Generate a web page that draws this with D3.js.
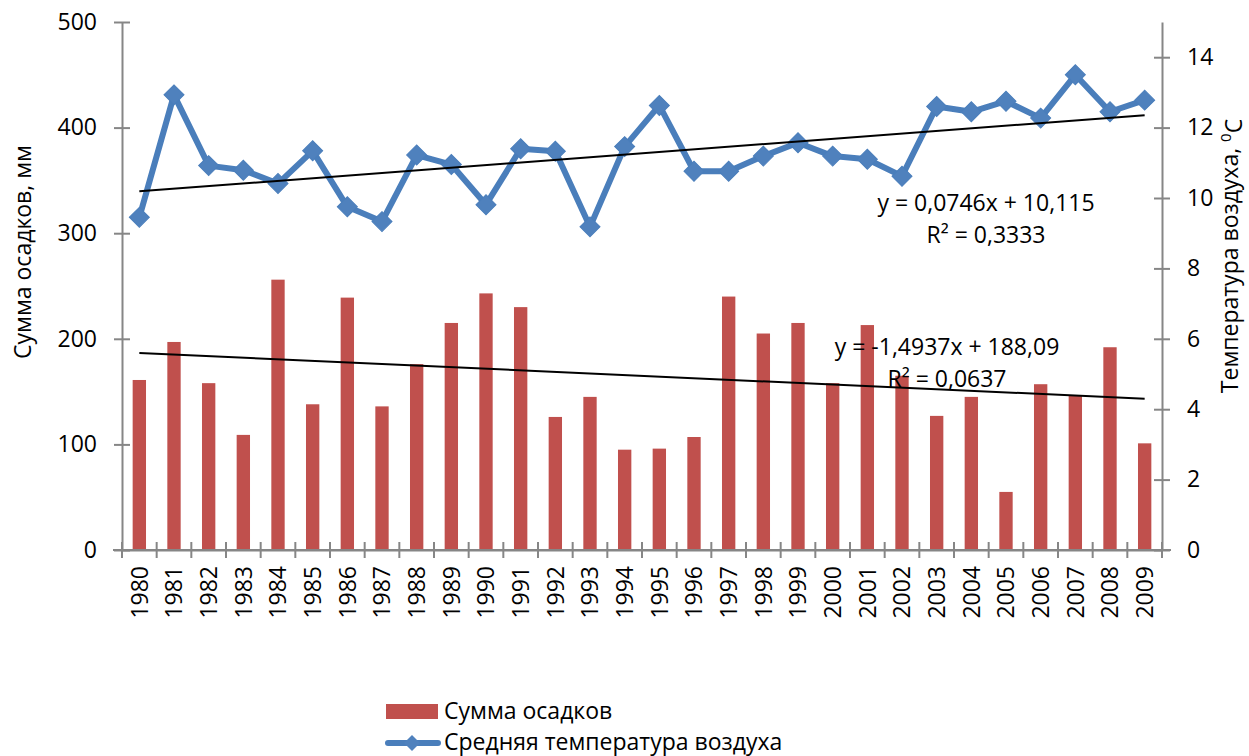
<!DOCTYPE html>
<html>
<head>
<meta charset="utf-8">
<script src="https://cdn.jsdelivr.net/npm/d3@7"></script>
<style>
  html, body { margin: 0; padding: 0; background: #fff; }
  svg { display: block; }
  text { font-family: "Open Sans", "Noto Sans", sans-serif; fill: #000; }
</style>
</head>
<body>
<svg id="chart" width="1249" height="756"></svg>
<script>
const years = ["1980","1981","1982","1983","1984","1985","1986","1987","1988","1989",
               "1990","1991","1992","1993","1994","1995","1996","1997","1998","1999",
               "2000","2001","2002","2003","2004","2005","2006","2007","2008","2009"];
const precipitation = [161,197,158,109,256,138,239,136,176,215,
                       243,230,126,145,95,96,107,240,205,215,
                       158,213,165,127,145,55,157,146,192,101];
const temperature = [9.45,12.93,10.92,10.79,10.41,11.34,9.75,9.33,11.22,10.95,
                     9.81,11.40,11.33,9.18,11.46,12.63,10.76,10.76,11.19,11.57,
                     11.19,11.10,10.62,12.60,12.45,12.75,12.27,13.50,12.45,12.78];
const leftTicks = [0,100,200,300,400,500];
const rightTicks = [0,2,4,6,8,10,12,14];
const tempTrendCoef = [0.0746, 10.115];
const precipTrendCoef = [-1.4937, 188.09];
const tempTrendLabel = ["y = 0,0746x + 10,115", "R² = 0,3333"];
const precipTrendLabel = ["y = -1,4937x + 188,09", "R² = 0,0637"];
const seriesNames = ["Сумма осадков", "Средняя температура воздуха"];
const leftTitle = "Сумма осадков, мм";
const rightTitle = "Температура воздуха, ";

const svg = d3.select("#chart");
const X0 = 122, X1 = 1162, Y0 = 550, Y1 = 22;
const barColor = "#C0504D", lineColor = "#4A7EBB", markerColor = "#4F81BD", axisColor = "#868686";

const x = d3.scaleBand().domain(years).range([X0, X1]).paddingInner(0.615).paddingOuter(0.3075);
const cx = d => x(d) + x.bandwidth() / 2;
const yL = d3.scaleLinear().domain([0, 500]).range([Y0, Y1]);
const yR = d3.scaleLinear().domain([0, 15]).range([Y0, Y1]);

// bars
svg.append("g").selectAll("rect").data(years).join("rect")
  .attr("x", d => x(d)).attr("width", x.bandwidth())
  .attr("y", (d, i) => yL(precipitation[i]))
  .attr("height", (d, i) => yL(0) - yL(precipitation[i]))
  .attr("fill", barColor);

// axes
function styleAxis(g) {
  g.select(".domain").attr("stroke", axisColor).attr("stroke-width", 2);
  g.selectAll(".tick line").attr("stroke", axisColor).attr("stroke-width", 2);
  g.selectAll("text").style("font-size", "23px").attr("font-family", "Open Sans");
}
const gL = svg.append("g").attr("transform", `translate(${X0},0)`)
  .call(d3.axisLeft(yL).tickValues(leftTicks).tickSizeInner(8).tickSizeOuter(0).tickPadding(17));
styleAxis(gL);
gL.selectAll(".tick line").attr("x1", 8);

const gR = svg.append("g").attr("transform", `translate(${X1},0)`)
  .call(d3.axisRight(yR).tickValues(rightTicks).tickSizeInner(8).tickSizeOuter(0).tickPadding(17));
styleAxis(gR);
gR.selectAll(".tick line").attr("x1", -8);

const gB = svg.append("g").attr("transform", `translate(0,${Y0})`)
  .call(d3.axisBottom(x).tickSize(0).tickSizeOuter(0));
gB.select(".domain").attr("stroke", axisColor).attr("stroke-width", 2);
gB.selectAll(".tick text")
  .style("font-size", "23px")
  .attr("transform", "rotate(-90)")
  .attr("x", -16).attr("y", 0).attr("dy", "0.36em")
  .attr("text-anchor", "end");
const bounds = years.map(d => cx(d) - x.step() / 2).concat([cx(years[years.length - 1]) + x.step() / 2]);
gB.selectAll("line.bt").data(bounds).join("line").attr("class", "bt")
  .attr("x1", d => d).attr("x2", d => d).attr("y1", -8).attr("y2", 8)
  .attr("stroke", axisColor).attr("stroke-width", 2);
gB.append("line").attr("x1", X0 - 9).attr("x2", X1 + 9).attr("y1", 0).attr("y2", 0)
  .attr("stroke", axisColor).attr("stroke-width", 2);

// precipitation trend
const n = years.length;
svg.append("line")
  .attr("x1", cx(years[0])).attr("y1", yL(precipTrendCoef[0] * 1 + precipTrendCoef[1]))
  .attr("x2", cx(years[n - 1])).attr("y2", yL(precipTrendCoef[0] * n + precipTrendCoef[1]))
  .attr("stroke", "#000").attr("stroke-width", 2);

// temperature line
const line = d3.line().x((d, i) => cx(years[i])).y(d => yR(d));
svg.append("path").datum(temperature).attr("d", line)
  .attr("fill", "none").attr("stroke", lineColor).attr("stroke-width", 6)
  .attr("stroke-linejoin", "round").attr("stroke-linecap", "round");
const diamond = d3.symbol().type(d3.symbolSquare).size(200);
svg.append("g").selectAll("path").data(temperature).join("path")
  .attr("d", diamond)
  .attr("transform", (d, i) => `translate(${cx(years[i])},${yR(d)}) rotate(45)`)
  .attr("fill", markerColor).attr("stroke", lineColor).attr("stroke-width", 1);

// temperature trend
svg.append("line")
  .attr("x1", cx(years[0])).attr("y1", yR(tempTrendCoef[0] * 1 + tempTrendCoef[1]))
  .attr("x2", cx(years[n - 1])).attr("y2", yR(tempTrendCoef[0] * n + tempTrendCoef[1]))
  .attr("stroke", "#000").attr("stroke-width", 2);

// trend labels
function eqLabel(lines, xc, yb) {
  const t = svg.append("text").attr("text-anchor", "middle").style("font-size", "23px");
  lines.forEach((s, i) => t.append("tspan").attr("x", xc).attr("y", yb + i * 32).text(s));
}
eqLabel(tempTrendLabel, 986, 211);
eqLabel(precipTrendLabel, 947, 355);

// axis titles
svg.append("text").attr("transform", "translate(31,252) rotate(-90)")
  .attr("text-anchor", "middle").style("font-size", "23px").text(leftTitle);
const rt = svg.append("text").attr("transform", "translate(1238,256) rotate(-90)")
  .attr("text-anchor", "middle").style("font-size", "23px");
rt.append("tspan").text(rightTitle);
rt.append("tspan").attr("dy", "-0.45em").style("font-size", "15px").text("0");
rt.append("tspan").attr("dy", "0.45em").text("C");

// legend
const lg = svg.append("g");
lg.append("rect").attr("x", 386).attr("y", 704).attr("width", 52).attr("height", 15).attr("fill", barColor);
lg.append("text").attr("x", 444).attr("y", 719).style("font-size", "23px").text(seriesNames[0]);
lg.append("line").attr("x1", 388).attr("x2", 438).attr("y1", 743).attr("y2", 743)
  .attr("stroke", lineColor).attr("stroke-width", 6).attr("stroke-linecap", "round");
lg.append("path").attr("d", d3.symbol().type(d3.symbolSquare).size(130))
  .attr("transform", "translate(412,743) rotate(45)").attr("fill", markerColor);
lg.append("text").attr("x", 444).attr("y", 750).style("font-size", "23px").text(seriesNames[1]);
</script>
</body>
</html>
